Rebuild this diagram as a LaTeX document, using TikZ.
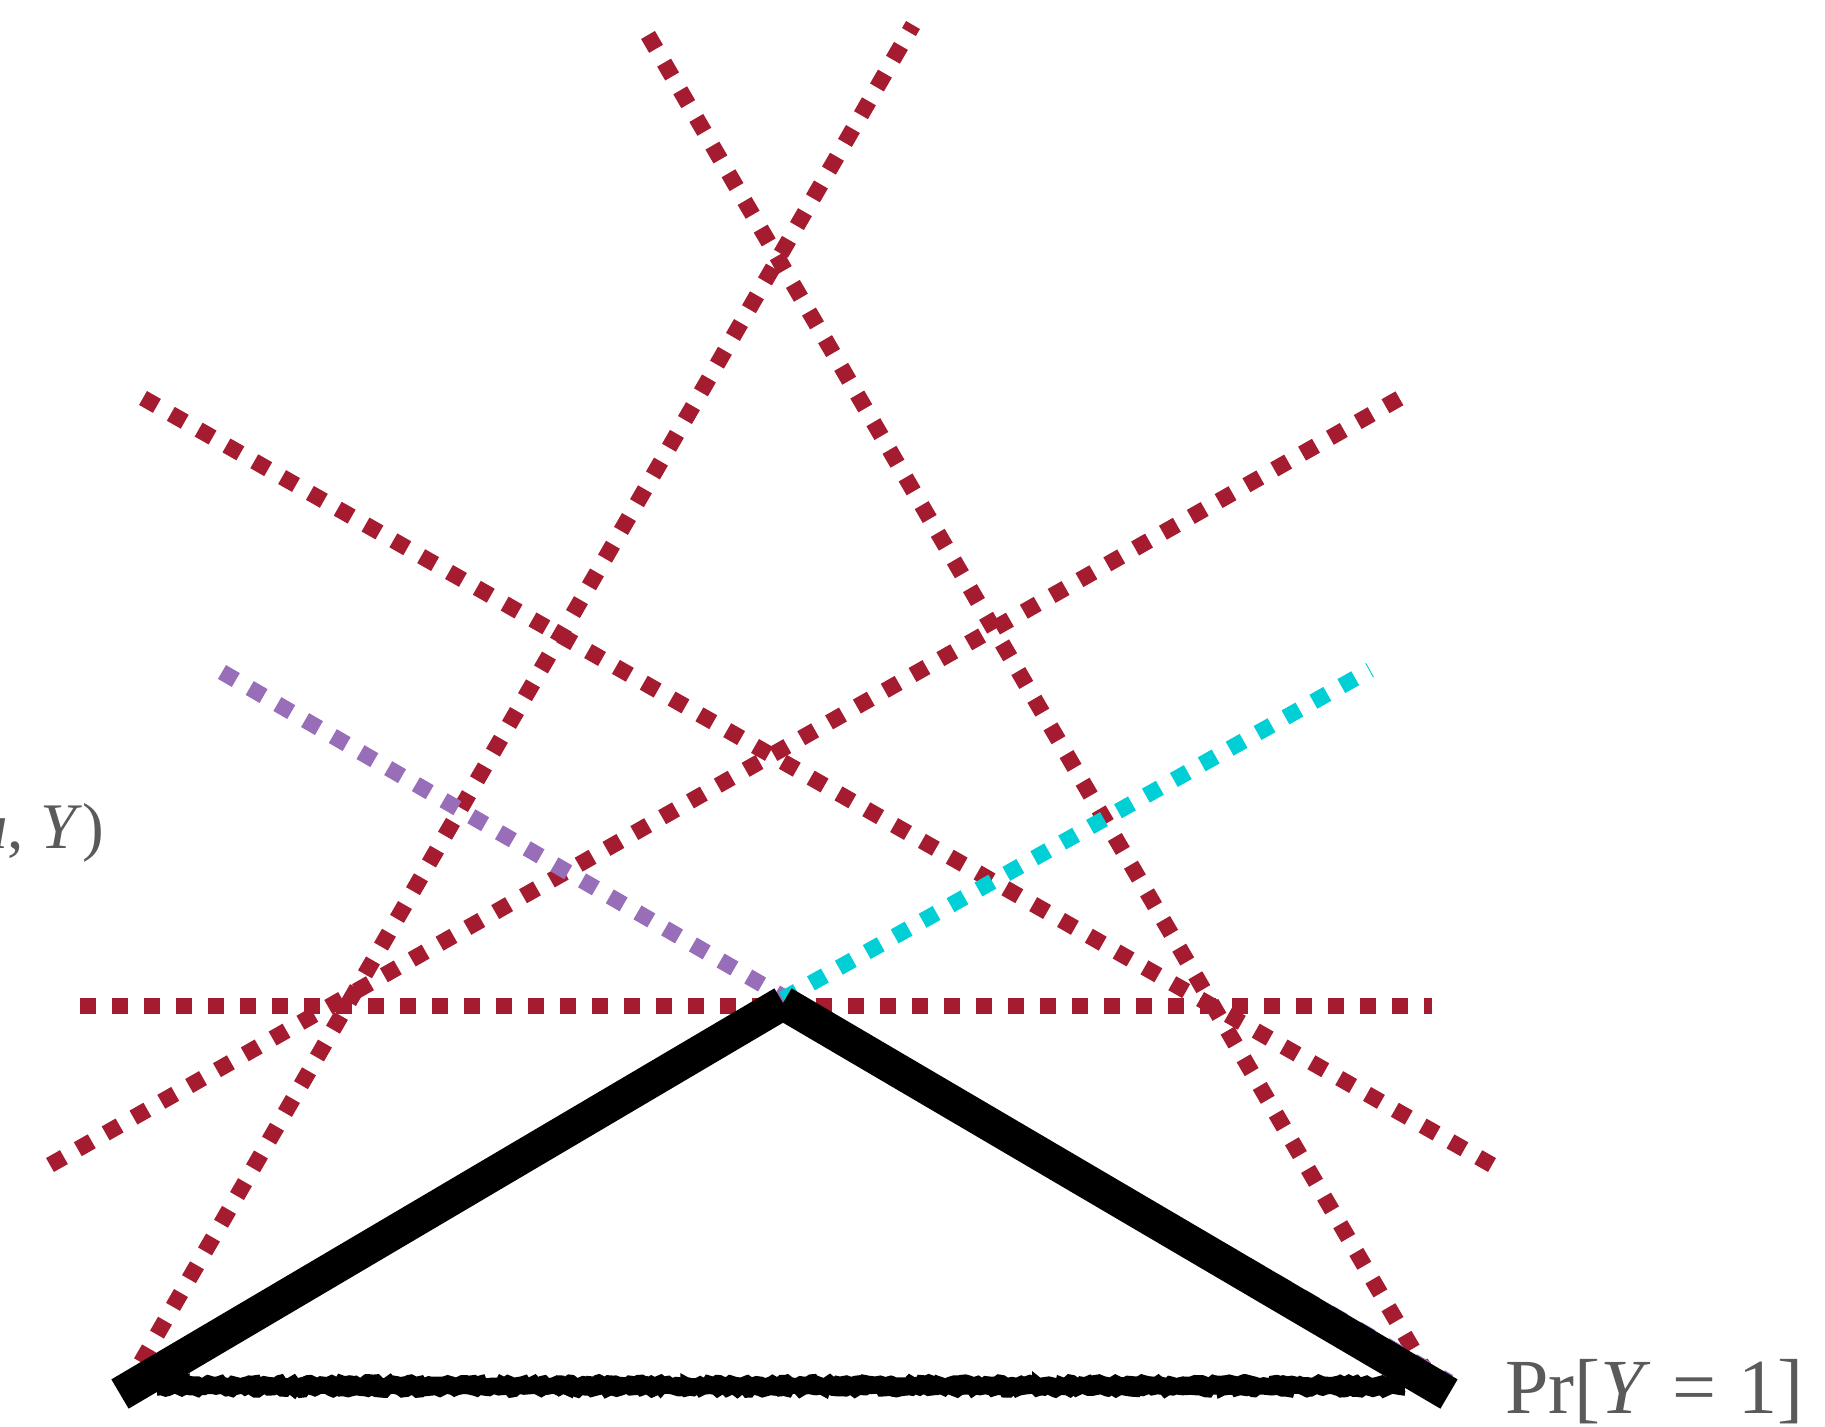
\documentclass[tikz,border=0pt]{standalone}
\usepackage{fontspec}
\setmainfont{Liberation Serif}
\usetikzlibrary{decorations.pathmorphing}
\definecolor{crim}{RGB}{165,28,48}
\definecolor{lav}{RGB}{152,110,185}
\definecolor{aqua}{RGB}{0,208,214}
\definecolor{txtgray}{RGB}{90,90,90}
\tikzset{
  tline/.style={line width=8pt, dash pattern=on 8pt off 8pt, line cap=butt},
  redline/.style={tline, draw=crim},
  purpline/.style={tline, draw=lav},
  cyanline/.style={tline, draw=aqua},
  hull/.style={line width=17pt, draw=black, line cap=butt},
  base/.style={line width=8pt, draw=black, line cap=butt},
  rough/.style={line width=2.6pt, draw=black, decorate, decoration={random steps, segment length=2pt, amplitude=1.1pt}},
  lbl/.style={text=txtgray, inner sep=0pt, outer sep=0pt}
}
\begin{document}
\pgfmathsetseed{7}
\begin{tikzpicture}[x=0.5pt, y=-0.5pt]
\useasboundingbox (0,0) rectangle (1825,1427);
% key points
\coordinate (L) at (120,1394);
\coordinate (T) at (783,1003);
\coordinate (R) at (1449,1394);
% red tangent lines
\coordinate (h1) at (80,1006);
\coordinate (h2) at (1432,1006);
\coordinate (a1) at (125,1390);
\coordinate (a2) at (913,25);
\coordinate (b1) at (1432,1382);
\coordinate (b2) at (648,35);
\coordinate (c1) at (143,398);
\coordinate (c2) at (1492,1165);
\coordinate (d1) at (50,1165);
\coordinate (d2) at (1400,398);
\draw[redline] (h1) -- (h2);
\draw[redline] (a1) -- (a2);
\draw[redline] (b2) -- (b1);
\draw[redline] (c1) -- (c2);
\draw[redline] (d1) -- (d2);
% purple and cyan
\coordinate (p1) at (222,672);
\coordinate (p2) at (1449,1382);
\coordinate (q2) at (1370,670);
\draw[purpline] (p1) -- (p2);
\draw[cyanline] (T) ++(0,-4) coordinate (q1) -- (q2);
% base line
\coordinate (s1) at (157,1386);
\coordinate (s2) at (1405,1386);
\draw[base] (s1) -- (s2);
\draw[rough] ([yshift=-3.6pt]s1) -- ([yshift=-3.6pt]s2);
\draw[rough] ([yshift=3.6pt]s1) -- ([yshift=3.6pt]s2);
% hull
\draw[hull] (L) -- (T);
\draw[hull] (R) -- (T);
% labels
\node[lbl, anchor=base east, font=\fontsize{32.5}{36}\selectfont] (lossl) at (104,848) {\textit{u}, \textit{Y})};
\node[lbl, anchor=base west, font=\fontsize{39}{44}\selectfont] (prl) at (1505,1413) {Pr[\textit{Y}\hspace{0.28em}=\hspace{0.28em}1]};
\end{tikzpicture}
\end{document}
